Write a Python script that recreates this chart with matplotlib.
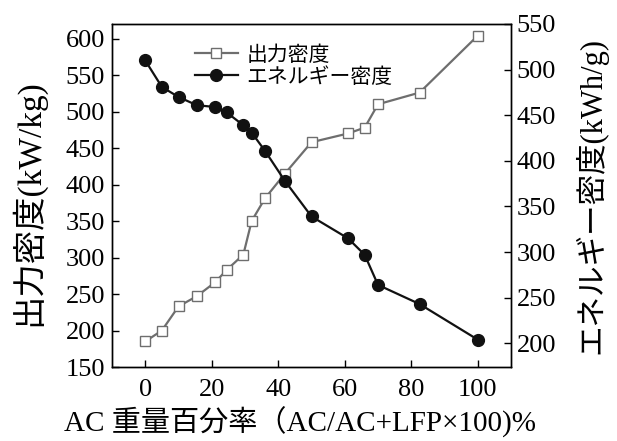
import matplotlib
matplotlib.use("Agg")
from matplotlib import pyplot as plt

plt.rcParams['font.family'] = ['Liberation Serif', 'Noto Sans CJK JP']

# AC weight percentage
ac_ratio = [0, 5, 10, 15.5, 21, 24.5, 29.5, 32, 36, 42, 50, 61, 66, 70, 82.5, 100]
# power density (kW/kg), left axis
power_density = [185, 200, 233, 247, 266, 283, 304, 350, 381, 415, 458, 470, 478, 510, 526, 604]
# energy density (kWh/g), right axis
energy_density = [510, 481, 470, 461, 459, 453, 439, 431, 411, 378, 339, 315, 297, 264, 243, 204]

xticks = [0, 20, 40, 60, 80, 100]
left_ticks = [150, 200, 250, 300, 350, 400, 450, 500, 550, 600]
right_ticks = [200, 250, 300, 350, 400, 450, 500, 550]

fig = plt.figure(figsize=(6.17, 4.41), dpi=100)
ax = fig.add_axes([112/617, 1 - 367/441, (511-112)/617, (367-24)/441])
ax2 = ax.twinx()

l1, = ax.plot(ac_ratio, power_density, color='#6e6e6e', lw=1.6, marker='s', ms=7,
              mfc='white', mec='#6e6e6e', mew=1.0, label='出力密度')
l2, = ax2.plot(ac_ratio, energy_density, color='#111111', lw=1.6, marker='o', ms=8.5,
               mfc='#111111', mec='#111111', label='エネルギー密度')

ax.set_xlim(-10, 110)
ax.set_ylim(150, 620)
ax2.set_ylim(174, 550)
ax.set_xticks(xticks)
ax.set_yticks(left_ticks)
ax2.set_yticks(right_ticks)

ax.tick_params(direction='in', length=5, width=1, labelsize=19)
ax.tick_params(axis='x', pad=9)
ax.tick_params(axis='y', pad=5)
ax2.tick_params(direction='in', length=5, width=1, labelsize=19, pad=4)

for sp in ax.spines.values():
    sp.set_linewidth(1.0)
for sp in ax2.spines.values():
    sp.set_linewidth(1.0)

ax.set_xlabel('AC 重量百分率（AC/AC+LFP×100)%', fontsize=21)
ax.xaxis.set_label_coords(0.471, -0.115)
ax.set_ylabel('出力密度(kW/kg)', fontsize=24)
ax.yaxis.set_label_coords(-0.168, 0.48)
ax2.set_ylabel('エネルギー密度(kWh/g)', fontsize=22)
ax2.yaxis.set_label_coords(1.16, 0.50)

ax.legend([l1, l2], ['出力密度', 'エネルギー密度'], loc='upper left',
          bbox_to_anchor=(0.16, 0.99), frameon=False, fontsize=15,
          handlelength=2.1, handletextpad=0.4, labelspacing=0.1)

fig.savefig('out.png', dpi=100)
